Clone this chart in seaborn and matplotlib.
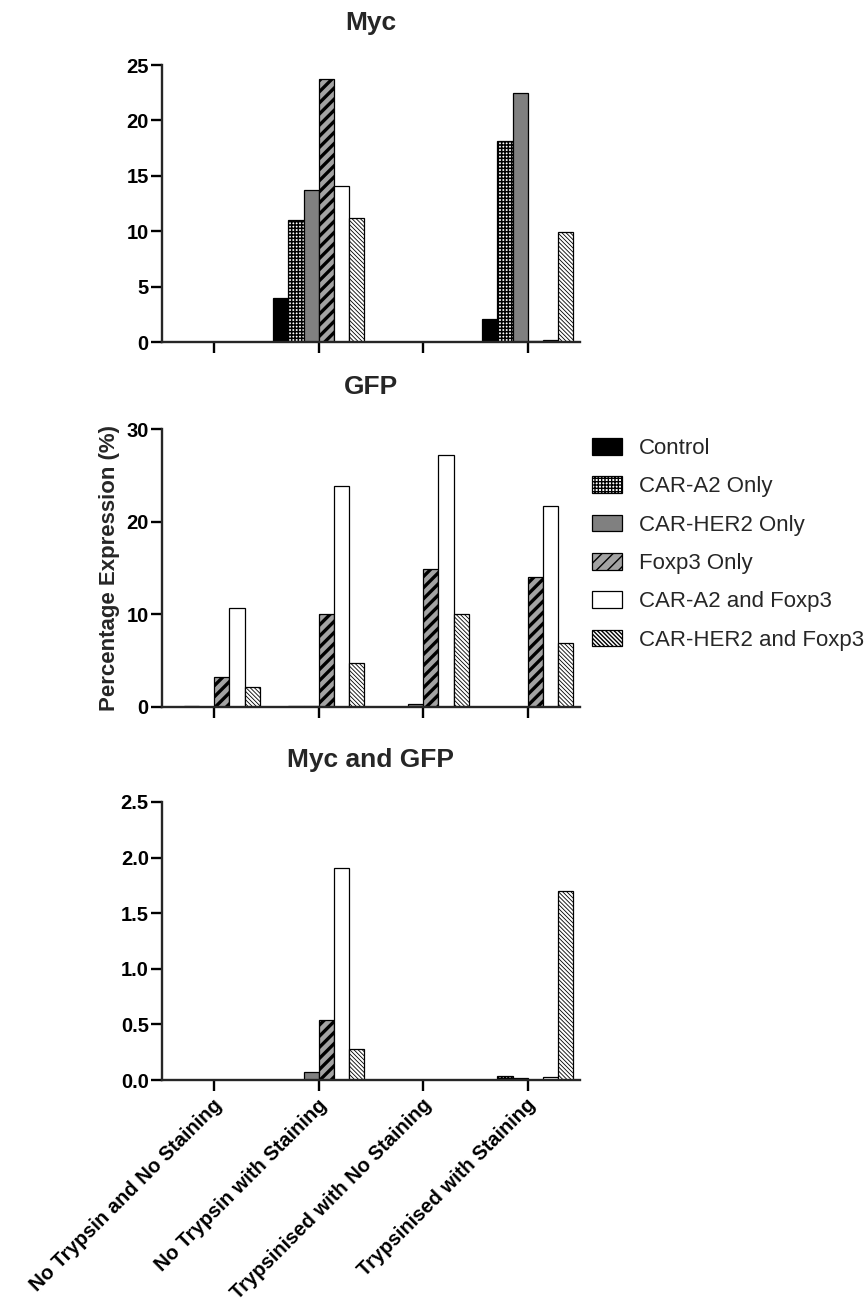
import pandas as pd
import seaborn as sns
import matplotlib.pyplot as plt
import matplotlib.transforms as mtransforms
from matplotlib.patches import Patch

# Conditions (x axis) and sample groups (hue)
conditions = ['No Trypsin and No Staining', 'No Trypsin with Staining',
              'Trypsinised with No Staining', 'Trypsinised with Staining']
groups = ['Control', 'CAR-A2 Only', 'CAR-HER2 Only', 'Foxp3 Only',
          'CAR-A2 and Foxp3', 'CAR-HER2 and Foxp3']

# Myc (%), one list per group across the four conditions
myc_control = [0, 4.0, 0, 2.1]
myc_a2 = [0, 11.0, 0, 18.1]
myc_her2 = [0, 13.7, 0, 22.5]
myc_foxp3 = [0, 23.7, 0, 0.05]
myc_a2_foxp3 = [0, 14.1, 0, 0.15]
myc_her2_foxp3 = [0, 11.2, 0, 9.9]

# GFP (%)
gfp_control = [0, 0.05, 0, 0]
gfp_a2 = [0.15, 0.1, 0.05, 0]
gfp_her2 = [0, 0.1, 0.3, 0.05]
gfp_foxp3 = [3.2, 10.0, 14.9, 14.0]
gfp_a2_foxp3 = [10.7, 23.8, 27.2, 21.7]
gfp_her2_foxp3 = [2.2, 4.7, 10.05, 6.9]

# Myc and GFP (%)
both_control = [0, 0, 0, 0]
both_a2 = [0, 0, 0, 0.04]
both_her2 = [0, 0.07, 0, 0.02]
both_foxp3 = [0, 0.54, 0, 0]
both_a2_foxp3 = [0, 1.91, 0, 0.03]
both_her2_foxp3 = [0, 0.28, 0, 1.70]

# Bar styling per group
fills = {'Control': '#000000', 'CAR-A2 Only': '#ffffff', 'CAR-HER2 Only': '#808080',
         'Foxp3 Only': '#a3a3a3', 'CAR-A2 and Foxp3': '#ffffff',
         'CAR-HER2 and Foxp3': '#ffffff'}
hatches = {'Control': '', 'CAR-A2 Only': '+++++', 'CAR-HER2 Only': '',
           'Foxp3 Only': '///', 'CAR-A2 and Foxp3': '',
           'CAR-HER2 and Foxp3': '\\' * 8}
hatch_lw = {'Control': 1, 'CAR-A2 Only': 1.1, 'CAR-HER2 Only': 1,
            'Foxp3 Only': 2.4, 'CAR-A2 and Foxp3': 1, 'CAR-HER2 and Foxp3': 0.6}


def to_long(columns):
    rows = []
    for g, vals in zip(groups, columns):
        for c, v in zip(conditions, vals):
            rows.append({'condition': c, 'group': g, 'value': v})
    return pd.DataFrame(rows)


myc_df = to_long([myc_control, myc_a2, myc_her2, myc_foxp3, myc_a2_foxp3, myc_her2_foxp3])
gfp_df = to_long([gfp_control, gfp_a2, gfp_her2, gfp_foxp3, gfp_a2_foxp3, gfp_her2_foxp3])
both_df = to_long([both_control, both_a2, both_her2, both_foxp3, both_a2_foxp3, both_her2_foxp3])

sns.set_theme(style='ticks')
plt.rcParams['font.family'] = ['Liberation Sans', 'DejaVu Sans']
plt.rcParams['font.weight'] = 'bold'
plt.rcParams['axes.labelweight'] = 'bold'
plt.rcParams['axes.titleweight'] = 'bold'


def set_hlw(patch, lw):
    if hasattr(patch, 'set_hatch_linewidth'):
        patch.set_hatch_linewidth(lw)


def draw_panel(ax, data, title, ymax, yticks, fmt):
    sns.barplot(data=data, x='condition', y='value', hue='group',
                order=conditions, hue_order=groups, palette=fills,
                width=0.87, saturation=1, errorbar=None, legend=False,
                edgecolor='black', linewidth=0.9, ax=ax)
    for cont, g in zip(ax.containers, groups):
        for bar in cont:
            bar.set_hatch(hatches[g])
            set_hlw(bar, hatch_lw[g])
    ax.set_xlim(-0.5, 3.5)
    ax.set_ylim(0, ymax)
    ax.set_yticks(yticks)
    ax.set_yticklabels([fmt.format(t) for t in yticks])
    sns.despine(ax=ax)
    for s in ['left', 'bottom']:
        ax.spines[s].set_linewidth(1.7)
    ax.tick_params(axis='both', direction='out', length=8, width=1.7,
                   labelsize=14.5, pad=1.5, colors='black')
    ax.set_title(title, fontsize=19, pad=25)
    ax.set_xlabel('')
    ax.set_ylabel('')


fig = plt.figure(figsize=(8.67, 13.08), dpi=100)
ax1 = fig.add_axes([0.1869, 0.7385, 0.482, 0.2118])
ax2 = fig.add_axes([0.1869, 0.4595, 0.482, 0.2125])
ax3 = fig.add_axes([0.1869, 0.1743, 0.482, 0.2126])

draw_panel(ax1, myc_df, 'Myc', 25, [0, 5, 10, 15, 20, 25], '{:g}')
draw_panel(ax2, gfp_df, 'GFP', 30, [0, 10, 20, 30], '{:g}')
draw_panel(ax3, both_df, 'Myc and GFP', 2.5, [0, 0.5, 1.0, 1.5, 2.0, 2.5], '{:.1f}')

ax1.set_xticklabels([])
ax2.set_xticklabels([])
ax2.set_ylabel('Percentage Expression (%)', fontsize=16, labelpad=5)
ax3.set_xticks(range(len(conditions)))
ax3.set_xticklabels(conditions, rotation=45, ha='right', va='center',
                    rotation_mode='anchor', fontsize=14.5)
ax3.tick_params(axis='x', pad=8)
shift = mtransforms.ScaledTranslation(5 / 100, 0, fig.dpi_scale_trans)
for lbl in ax3.get_xticklabels():
    lbl.set_transform(lbl.get_transform() + shift)

# Legend next to the GFP panel
handles = []
for g in groups:
    p = Patch(facecolor=fills[g], edgecolor='black', linewidth=0.9, hatch=hatches[g])
    set_hlw(p, hatch_lw[g])
    handles.append(p)
fig.legend(handles, groups, loc='upper left', bbox_to_anchor=(592 / 867, 1 - 438 / 1308),
           frameon=False, prop={'size': 16, 'weight': 'normal'},
           handlelength=1.35, handleheight=0.77, handletextpad=0.75,
           labelspacing=0.78, borderpad=0, borderaxespad=0)

fig.savefig('out.png', dpi=100)
plt.close()
